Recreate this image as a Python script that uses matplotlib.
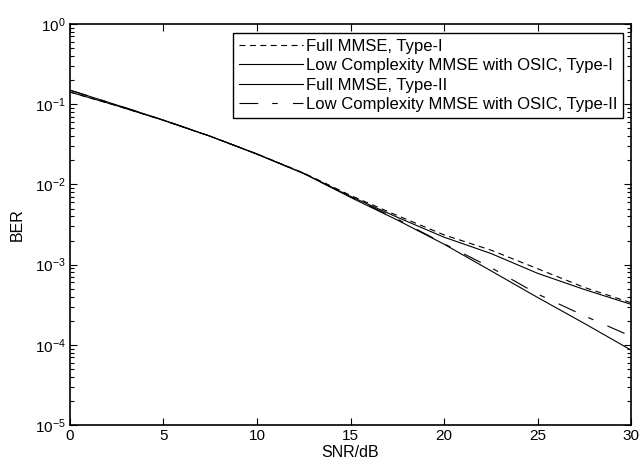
import numpy as np
import matplotlib
matplotlib.use('Agg')
from matplotlib import pyplot as plt
from matplotlib.ticker import LogLocator, NullFormatter

plt.rcParams['font.family'] = ['Liberation Sans', 'DejaVu Sans']
plt.rcParams['lines.scale_dashes'] = False

snr = [0, 2.5, 5, 7.5, 10, 12.5, 15, 17.5, 20, 22.5, 25, 27.5, 30]

full_type1 = [0.142, 0.096, 0.063, 0.0398, 0.0240, 0.0139, 0.0073, 0.0041, 0.00235,
              0.00152, 0.00089, 0.00052, 0.000335]
low_type1 = [0.142, 0.096, 0.063, 0.0398, 0.0238, 0.0137, 0.0071, 0.0039, 0.0022,
             0.00138, 0.00078, 0.00049, 0.00032]
full_type2 = [0.150, 0.098, 0.0635, 0.0400, 0.0240, 0.0137, 0.0069, 0.0036, 0.0018,
              0.00084, 0.00039, 0.000185, 0.000086]
low_type2 = [0.150, 0.098, 0.0635, 0.0400, 0.0240, 0.0137, 0.0070, 0.0037, 0.00182,
             0.00092, 0.00043, 0.00023, 0.000128]

labels = ['Full MMSE, Type-I', 'Low Complexity MMSE with OSIC, Type-I',
          'Full MMSE, Type-II', 'Low Complexity MMSE with OSIC, Type-II']

fig = plt.figure(figsize=(6.42, 4.63), dpi=100)
ax = fig.add_axes([0.109, 0.082, 0.874, 0.866])

lw = 0.8
ax.plot(snr, full_type1, color='k', lw=lw, dashes=(4.3, 3.2), label=labels[0])
ax.plot(snr, low_type1, color='k', lw=lw, label=labels[1])
ax.plot(snr, full_type2, color='k', lw=lw, label=labels[2])
ax.plot(snr, low_type2, color='k', lw=lw, dashes=(13.5, 10, 4, 11), label=labels[3])

ax.set_yscale('log')
ax.set_xlim(0, 30)
ax.set_ylim(1e-5, 1)
ax.set_xticks([0, 5, 10, 15, 20, 25, 30])
ax.yaxis.set_major_locator(LogLocator(base=10, numticks=10))
ax.yaxis.set_minor_locator(LogLocator(base=10, subs=np.arange(2, 10), numticks=20))
ax.yaxis.set_minor_formatter(NullFormatter())

ax.tick_params(which='both', direction='in', top=True, right=True, labelsize=11, colors='k')
ax.tick_params(which='major', length=5, width=0.8, pad=3)
ax.tick_params(which='minor', length=3, width=0.8)
for s in ax.spines.values():
    s.set_linewidth(1.2)

ax.set_xlabel('SNR/dB', fontsize=11.5, labelpad=1)
ax.set_ylabel('BER', fontsize=11.5, labelpad=7)

leg = ax.legend(loc='upper right', bbox_to_anchor=(0.986, 0.978), fontsize=12,
                fancybox=False, edgecolor='k', framealpha=1, handlelength=3.8,
                handletextpad=0.2, labelspacing=0.27, borderpad=0.35, borderaxespad=0)
leg.get_frame().set_linewidth(1.0)

fig.savefig('out.png', dpi=100)
